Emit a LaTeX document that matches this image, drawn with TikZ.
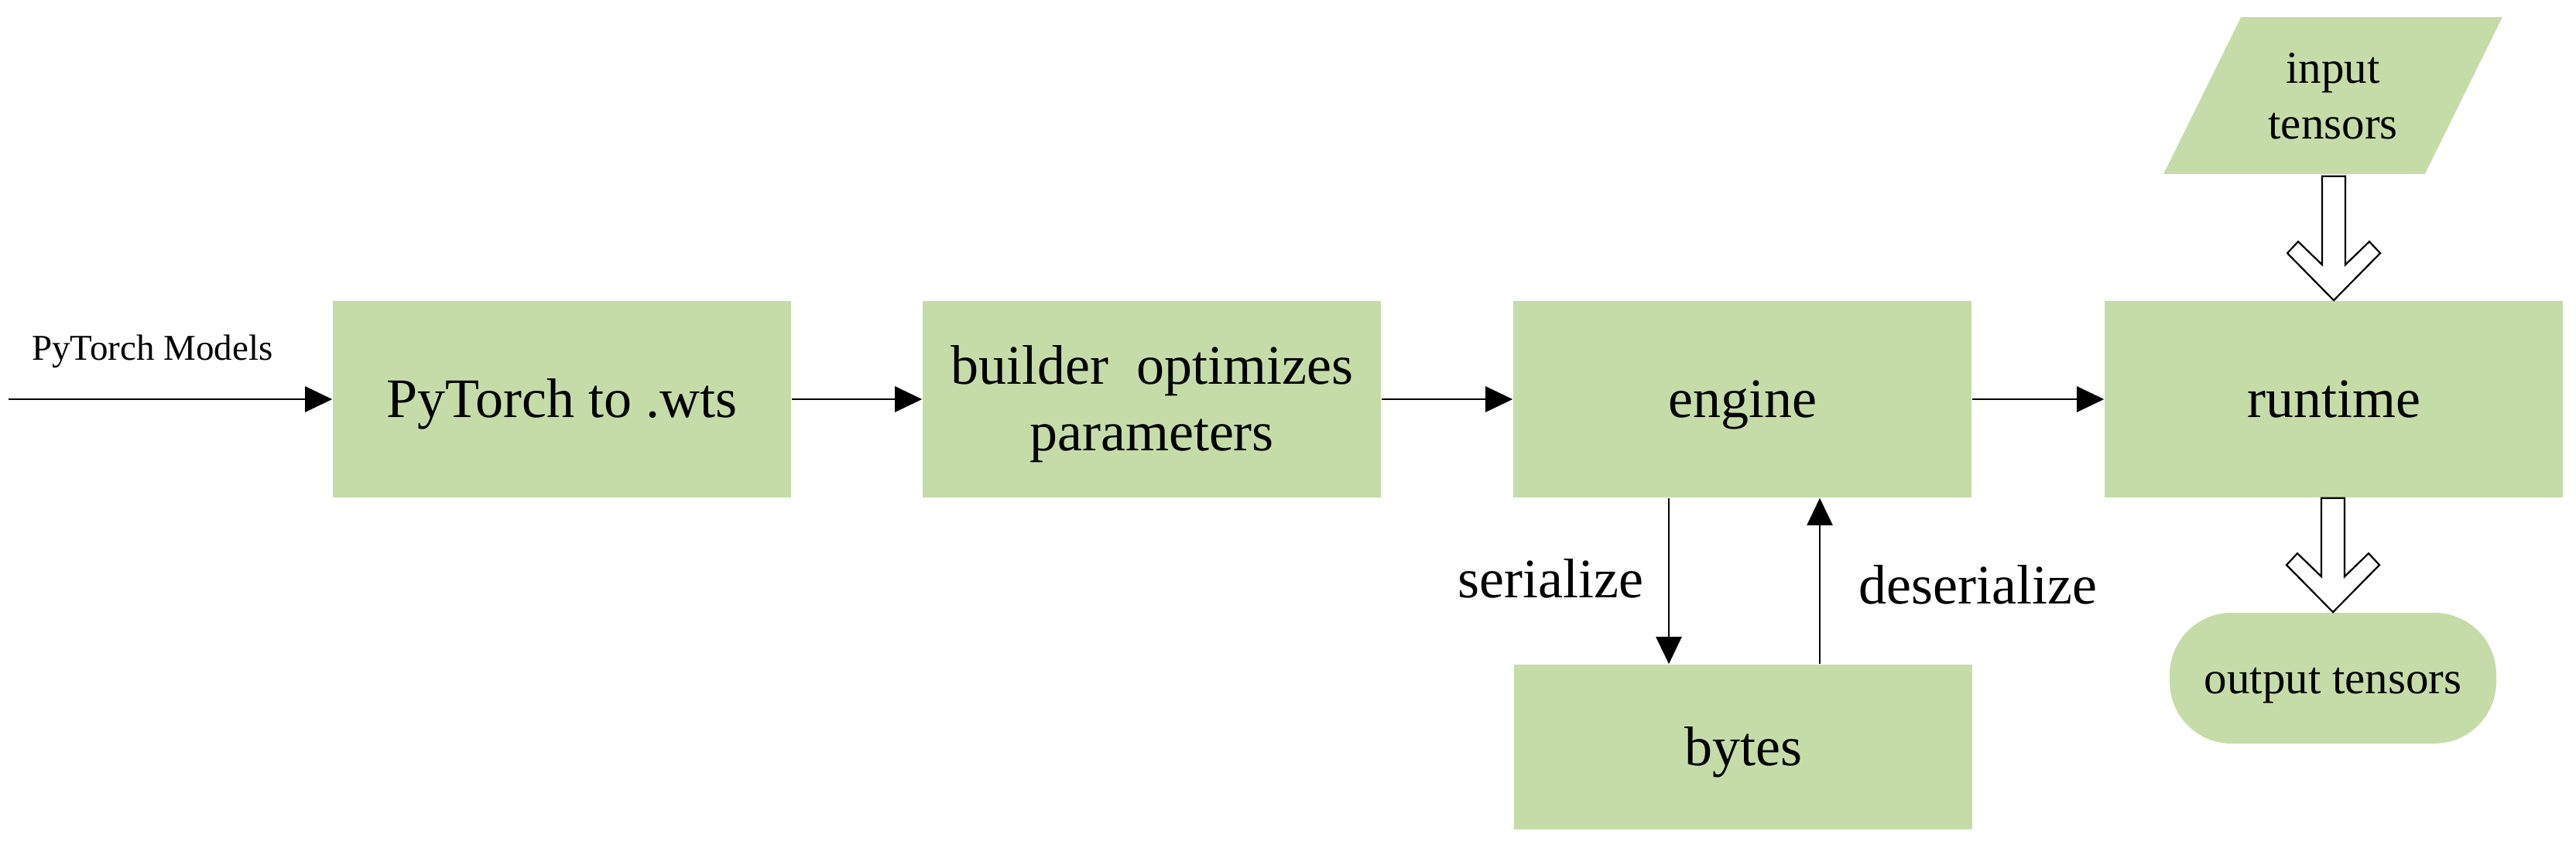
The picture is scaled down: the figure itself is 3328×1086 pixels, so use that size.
\documentclass[tikz,border=0pt]{standalone}
\usepackage{fontspec}
\setmainfont{Liberation Serif}
\usetikzlibrary{arrows.meta,backgrounds,calc}
\definecolor{boxgreen}{RGB}{197,220,168}
\newcommand\hollowarrow[2]{%
 \draw[hollow] let \p1=(#1), \p2=(#2) in
 (\x2-3.75pt,\y1) -- (\x2-3.75pt,\y2+11.5pt) -- (\x2-11.5pt,\y2+19pt) -- (\x2-15pt,\y2+15.25pt) -- (\x2,\y2)
 -- (\x2+15pt,\y2+15.25pt) -- (\x2+11.5pt,\y2+19pt) -- (\x2+3.75pt,\y2+11.5pt) -- (\x2+3.75pt,\y1) -- cycle;}
\newcommand\twolines[2]{\begin{tabular}[b]{@{}c@{}}#1\\#2\end{tabular}}
\begin{document}
\begin{tikzpicture}[x=0.25pt,y=-0.25pt,
  bigfont/.style={font=\fontsize{18pt}{21.4pt}\selectfont},
  smallfont/.style={font=\fontsize{14.75pt}{17.9pt}\selectfont},
  box/.style={bigfont, fill=boxgreen, minimum width=148pt, minimum height=63.5pt, inner sep=0pt, text height=11.9pt, text depth=0pt},
  box2l/.style={bigfont, fill=boxgreen, minimum width=148pt, minimum height=63.5pt, inner sep=0pt, text height=33pt, text depth=0pt},
  lab/.style={bigfont, inner sep=0pt},
  conn/.style={line width=0.55pt, -{Triangle[length=8.75pt,width=8.25pt]}},
  hollow/.style={draw=black, fill=white, line width=0.55pt, line join=miter},
  para/.style={smallfont, minimum width=84pt, minimum height=50.25pt, inner sep=0pt, text height=27.75pt, text depth=0pt},
  outn/.style={smallfont, fill=boxgreen, rounded corners=20pt, minimum width=105.5pt, minimum height=42.25pt, inner sep=0pt, text height=9.76pt, text depth=0pt}
]
\useasboundingbox (0,0) rectangle (3328,1086);

\node[box] (b1) at (726,516) {PyTorch to .wts};
\node[box2l] (b2) at (1488,516) {\twolines{builder\ \ optimizes}{parameters}};
\node[box] (eng) at (2251,516) {engine};
\node[box] (run) at (3015,516) {runtime};
\node[box, minimum height=53.25pt] (byt) at (2252,965.5) {bytes};

\node[para] (inp) at (3014,123.5) {\twolines{input}{tensors}};
\begin{scope}[on background layer]
\fill[boxgreen] ([xshift=12.5pt]inp.north west) -- ([xshift=12.5pt]inp.north east)
  -- ([xshift=-12.5pt]inp.south east) -- ([xshift=-12.5pt]inp.south west) -- cycle;
\end{scope}
\node[outn] (out) at (3014,876.5) {output tensors};

\node[font=\fontsize{11.75pt}{14pt}\selectfont, anchor=base, inner sep=0pt] (pm) at (197,465) {PyTorch Models};
\coordinate (src) at (11,516);

\draw[conn] (src) -- (b1.west);
\draw[conn] (b1.east) -- (b2.west);
\draw[conn] (b2.east) -- (eng.west);
\draw[conn] (eng.east) -- (run.west);

\draw[conn] ([xshift=-23.75pt]eng.south) -- ([xshift=-23.75pt]eng.south |- byt.north);
\draw[conn] ([xshift=25pt]eng.south |- byt.north) -- ([xshift=25pt]eng.south);
\node[lab, anchor=base east] (ser) at (2124,772) {serialize};
\node[lab, anchor=base west] (deser) at (2401,780) {deserialize};

\hollowarrow{[yshift=-0.75pt]inp.south}{run.north}
\hollowarrow{run.south}{out.north}
\end{tikzpicture}
\end{document}
